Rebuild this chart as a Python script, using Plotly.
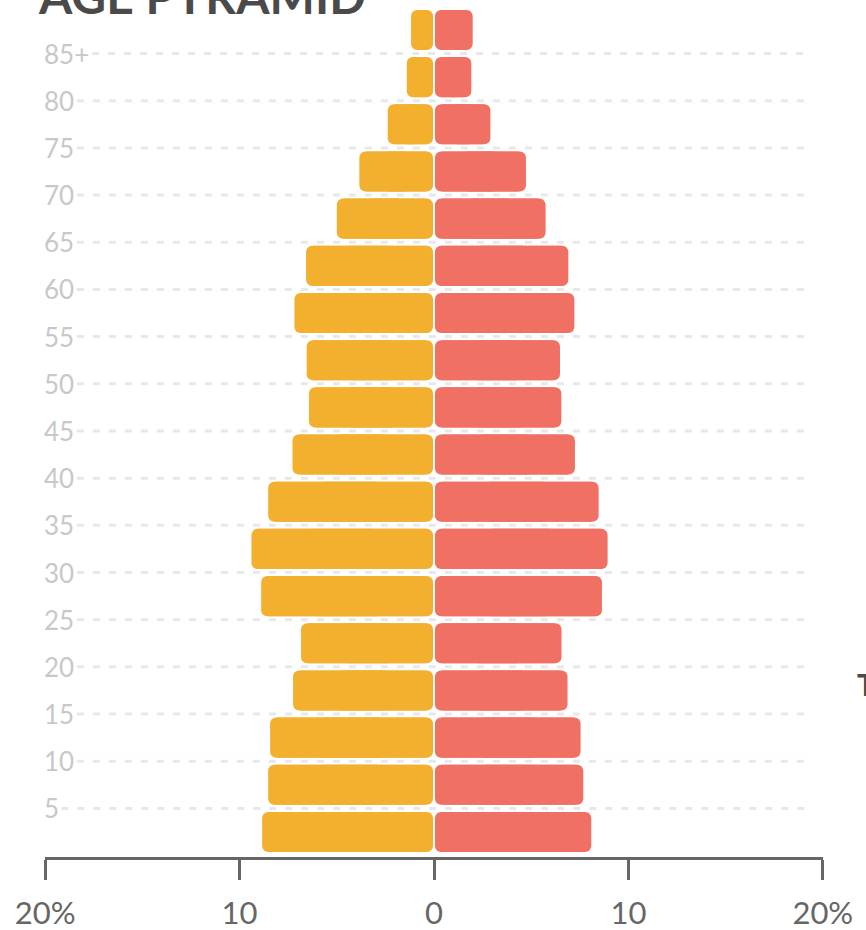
import plotly.graph_objects as go

# ---------------- data ----------------
age_groups = ['0-4', '5-9', '10-14', '15-19', '20-24', '25-29', '30-34', '35-39',
              '40-44', '45-49', '50-54', '55-59', '60-64', '65-69', '70-74',
              '75-79', '80-84', '85+']
men_pct = [8.84, 8.53, 8.43, 7.25, 6.84, 8.89, 9.39, 8.53, 7.28, 6.43, 6.55,
           7.18, 6.58, 5.00, 3.84, 2.38, 1.40, 1.18]
women_pct = [8.09, 7.68, 7.54, 6.87, 6.56, 8.64, 8.93, 8.47, 7.25, 6.55, 6.48,
             7.22, 6.91, 5.74, 4.73, 2.90, 1.92, 1.99]
y_tick_labels = ['5', '10', '15', '20', '25', '30', '35', '40', '45', '50',
                 '55', '60', '65', '70', '75', '80', '85+']
x_tick_values = [-20, -10, 0, 10, 20]
x_tick_labels = ['20%', '10', '0', '10', '20%']
title_text = 'AGE PYRAMID'

# ---------------- style ----------------
ORANGE = '#F2B02E'
RED = '#F07064'
AXIS = '#666666'
LABEL = '#c8c8c8'
GAP = 0.05
BAR_W = 0.85
RADIUS_PX = 6
W, H = 866, 930
ML, MR, MT, MB = 45, 43, 0, 73
XMIN, XMAX = -20.01, 20.01
PX_PER_UNIT = (W - ML - MR) / (XMAX - XMIN)
ypos = list(range(len(age_groups)))


def px_to_x(px):
    return XMIN + (px - ML) / PX_PER_UNIT


def rounded_bar(values, sign, color, name):
    """Square core underneath + two overlapping halves rounded at each end."""
    near = [sign * GAP for _ in values]
    far = [sign * v for v in values]
    inset = sign * (RADIUS_PX + 1) / PX_PER_UNIT
    core_base = [n + inset for n in near]
    core_x = [(f - inset) - b for f, b in zip(far, core_base)]
    b_far = [n + 0.3 * (f - n) for n, f in zip(near, far)]
    x_far = [f - b for f, b in zip(far, b_far)]
    b_near = [n + 0.7 * (f - n) for n, f in zip(near, far)]
    x_near = [n - b for n, b in zip(near, b_near)]
    common = dict(orientation='h', y=ypos, width=BAR_W, marker_color=color,
                  marker_line_width=0, marker_opacity=1, name=name,
                  hoverinfo='skip', showlegend=False)
    return [go.Bar(x=core_x, base=core_base, **common),
            go.Bar(x=x_far, base=b_far, marker_cornerradius=RADIUS_PX, **common),
            go.Bar(x=x_near, base=b_near, marker_cornerradius=RADIUS_PX, **common)]


fig = go.Figure()
for t in rounded_bar(men_pct, -1, ORANGE, 'Men'):
    fig.add_trace(t)
for t in rounded_bar(women_pct, 1, RED, 'Women'):
    fig.add_trace(t)

# y labels (left aligned) and dashed gridlines starting right after each label
for i, lab in enumerate(y_tick_labels):
    fig.add_annotation(text=lab, xref='paper', yref='y', x=0, y=i + 0.5,
                       xanchor='left', yanchor='middle', xshift=-3, showarrow=False,
                       font=dict(family='Lato', size=26, color=LABEL))
    start_px = ML + 15.4 * len(lab) + 1
    fig.add_shape(type='line', xref='x', yref='y', layer='below',
                  x0=px_to_x(start_px), x1=19.1, y0=i + 0.5, y1=i + 0.5,
                  line=dict(color='#e8e8e8', width=3, dash='7px,9px'))

fig.add_annotation(text=title_text, xref='paper', yref='paper', x=0, y=1,
                   xanchor='left', yanchor='bottom', xshift=-9, yshift=-26,
                   showarrow=False,
                   font=dict(family='Lato', size=48, color='#4a4a4a', weight='bold'))
fig.add_annotation(text='T', xref='paper', yref='paper', x=1, y=(H - MB - 684) / (H - MB - MT),
                   xanchor='left', yanchor='middle', xshift=32, showarrow=False,
                   font=dict(family='Lato', size=30, color='#4a4a4a', weight='bold'))

fig.update_layout(
    width=W, height=H,
    margin=dict(l=ML, r=MR, t=MT, b=MB, pad=0),
    paper_bgcolor='white', plot_bgcolor='white',
    barmode='overlay', showlegend=False,
    font=dict(family='Lato'),
    xaxis=dict(range=[XMIN, XMAX], tickvals=x_tick_values, ticktext=x_tick_labels,
               ticks='outside', ticklen=20, tickwidth=3, tickcolor=AXIS,
               showline=True, linewidth=3, linecolor=AXIS,
               showgrid=False, zeroline=False, fixedrange=True,
               ticklabeloverflow='allow', ticklabelstandoff=7,
               tickfont=dict(family='Lato', size=31, color=AXIS)),
    yaxis=dict(range=[-0.53, 17.635], showticklabels=False, ticks='',
               showline=False, showgrid=False, zeroline=False, fixedrange=True),
)

fig.write_html('out.html', config={'displayModeBar': False},
               post_script="document.body.style.margin='0';document.body.style.overflow='hidden';")
